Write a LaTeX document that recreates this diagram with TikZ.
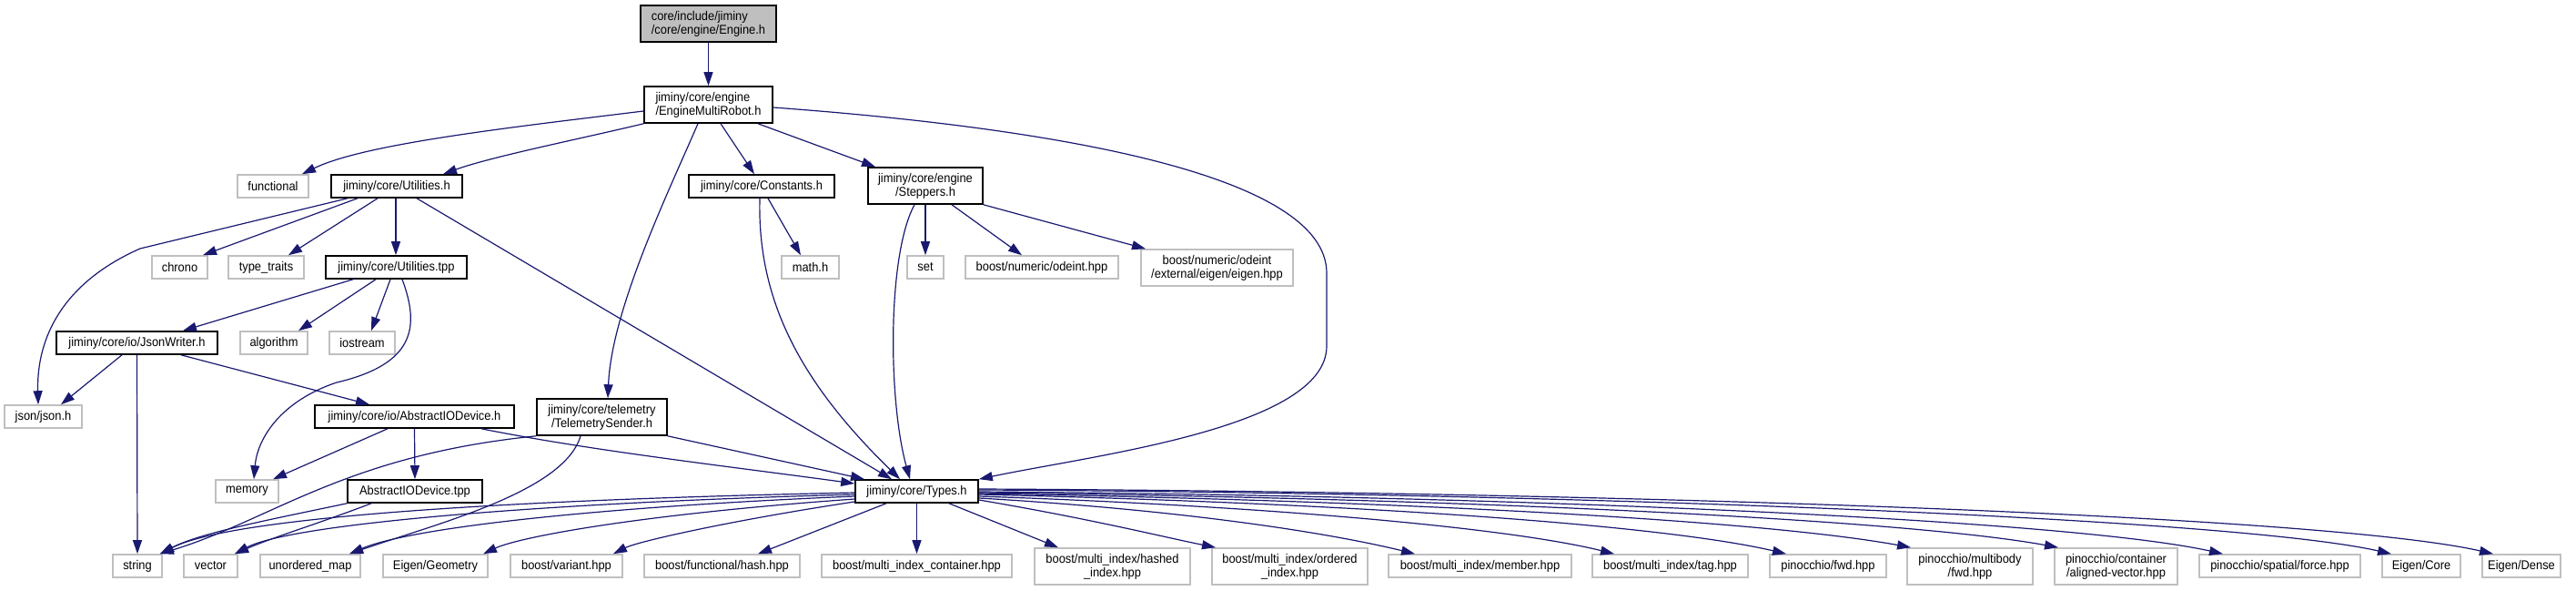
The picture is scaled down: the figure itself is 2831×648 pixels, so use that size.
\documentclass[tikz,border=0pt]{standalone}
\usepackage{fontspec}
\setmainfont{Liberation Sans}[FakeStretch=0.92]
\usetikzlibrary{arrows.meta}
\definecolor{edgeblue}{HTML}{191970}
\definecolor{extgray}{HTML}{BFBFBF}

\begin{document}
\begin{tikzpicture}[x=0.5pt,y=-0.5pt,
  every node/.style={font=\fontsize{7}{7.5}\selectfont,inner sep=0pt,
    minimum height=12.5pt,align=center},
  incl/.style={draw=black,line width=0.8pt,fill=white},
  extl/.style={draw=extgray,line width=0.8pt,fill=white},
  rootnode/.style={draw=black,line width=0.8pt,fill=extgray},
  tall/.style={minimum height=20pt},
  dep/.style={draw=edgeblue,line width=0.6pt,-{Triangle[length=7.5pt,width=5pt]}}]
  \useasboundingbox (0,0) rectangle (2831,648);
  % files of the project
  \node[rootnode,align=left,tall,minimum width=74.5pt] (root) at (778.5,26) {core/include/jiminy\\/core/engine/Engine.h};
  \node[incl,align=left,tall,minimum width=70.5pt] (emr) at (778.5,115) {jiminy/core/engine\\/EngineMultiRobot.h};
  \node[extl,minimum width=39pt] (functional) at (300,204.5) {functional};
  \node[incl,minimum width=72pt] (utilh) at (436,204.5) {jiminy/core/Utilities.h};
  \node[incl,minimum width=80pt] (constants) at (837,204.5) {jiminy/core/Constants.h};
  \node[incl,tall,minimum width=63pt] (steppers) at (1017,204) {jiminy/core/engine\\/Steppers.h};
  \node[extl,minimum width=30.5pt] (chrono) at (197.5,293.5) {chrono};
  \node[extl,minimum width=41.5pt] (typetraits) at (292.5,293.5) {type\_traits};
  \node[incl,minimum width=77.5pt] (utiltpp) at (435.5,293.5) {jiminy/core/Utilities.tpp};
  \node[extl,minimum width=31.5pt] (mathh) at (890.5,293.5) {math.h};
  \node[extl,minimum width=20pt] (set) at (1017,293.5) {set};
  \node[extl,minimum width=84pt] (odeint) at (1145,293.5) {boost/numeric/odeint.hpp};
  \node[extl,tall,minimum width=83.5pt] (odeinteigen) at (1337.5,294) {boost/numeric/odeint\\/external/eigen/eigen.hpp};
  \node[incl,minimum width=88.5pt] (jsonwriter) at (150.5,376.5) {jiminy/core/io/JsonWriter.h};
  \node[extl,minimum width=37pt] (algorithm) at (301,376.5) {algorithm};
  \node[extl,minimum width=36pt] (iostream) at (398,376.5) {iostream};
  \node[extl,minimum width=42.5pt] (json) at (47.5,457.5) {json/json.h};
  \node[incl,minimum width=109.5pt] (aiodh) at (455.5,457.5) {jiminy/core/io/AbstractIODevice.h};
  \node[incl,tall,minimum width=71.5pt] (telemetry) at (661.5,458) {jiminy/core/telemetry\\/TelemetrySender.h};
  \node[extl,minimum width=34.5pt] (memory) at (271.5,539.5) {memory};
  \node[incl,minimum width=74pt] (aiodtpp) at (456,539.5) {AbstractIODevice.tpp};
  \node[incl,minimum width=67.5pt] (types) at (1007.5,539.5) {jiminy/core/Types.h};
  % external headers, bottom row
  \node[extl,minimum width=27pt] (string) at (151,621.5) {string};
  \node[extl,minimum width=29.5pt] (vector) at (231.5,621.5) {vector};
  \node[extl,minimum width=55pt] (umap) at (341,621.5) {unordered\_map};
  \node[extl,minimum width=57.5pt] (geometry) at (478.5,621.5) {Eigen/Geometry};
  \node[extl,minimum width=61.5pt] (variant) at (622.5,621.5) {boost/variant.hpp};
  \node[extl,minimum width=85.5pt] (hash) at (793.5,621.5) {boost/functional/hash.hpp};
  \node[extl,minimum width=104.5pt] (container) at (1007.5,621.5) {boost/multi\_index\_container.hpp};
  \node[extl,tall,minimum width=85.5pt] (hashed) at (1222.5,622) {boost/multi\_index/hashed\\\_index.hpp};
  \node[extl,tall,minimum width=85.5pt] (ordered) at (1417.5,622) {boost/multi\_index/ordered\\\_index.hpp};
  \node[extl,minimum width=100.5pt] (member) at (1626.5,621.5) {boost/multi\_index/member.hpp};
  \node[extl,minimum width=85.5pt] (tag) at (1835.5,621.5) {boost/multi\_index/tag.hpp};
  \node[extl,minimum width=64pt] (pfwd) at (2009,621.5) {pinocchio/fwd.hpp};
  \node[extl,tall,minimum width=69pt] (multibody) at (2165,622) {pinocchio/multibody\\/fwd.hpp};
  \node[extl,tall,minimum width=67.5pt] (aligned) at (2325.5,622) {pinocchio/container\\/aligned-vector.hpp};
  \node[extl,minimum width=88.5pt] (force) at (2505.5,621.5) {pinocchio/spatial/force.hpp};
  \node[extl,minimum width=43pt] (core) at (2661,621.5) {Eigen/Core};
  \node[extl,minimum width=43pt] (dense) at (2771,621.5) {Eigen/Dense};

  % Engine.h and EngineMultiRobot.h
  \draw[dep] (root) -- (emr);
  \draw[dep] (emr.west |- 0,122) .. controls (560,140) and (400,158) .. (functional.north -| 332,0);
  \draw[dep] (emr.south west) .. controls (640,152) and (540,172) .. (utilh.north -| 487,0);
  \draw[dep] (emr.south -| 767,0) .. controls (735,210) and (672,340) .. (telemetry.north -| 668,0);
  \draw[dep] (emr.south -| 792,0) -- (constants.north -| 829,0);
  \draw[dep] (emr.south -| 833,0) -- (steppers.north -| 962,0);
  \draw[dep] (emr.east |- 0,118) .. controls (1150,140) and (1458,190) .. (1458,300)
    -- (1458,380) .. controls (1458,470) and (1200,500) .. (types.north east);
  % Utilities.h
  \draw[dep] (utilh.south -| 393,0) -- (chrono.north -| 223,0);
  \draw[dep] (utilh.south -| 415,0) -- (typetraits.north -| 317,0);
  \draw[dep] (utilh.south -| 435,0) -- (utiltpp.north -| 435,0);
  \draw[dep] (utilh.south -| 382,0) -- (154,273) .. controls (70,310) and (40,370) .. (json.north -| 42,0);
  \draw[dep] (utilh.south -| 458,0) -- (types.north -| 980,0);
  % Utilities.tpp
  \draw[dep] (utiltpp.south -| 388,0) -- (jsonwriter.north -| 201,0);
  \draw[dep] (utiltpp.south -| 413,0) -- (algorithm.north -| 328,0);
  \draw[dep] (utiltpp.south -| 429,0) -- (iostream.north -| 408,0);
  \draw[dep] (utiltpp.south -| 442,0) .. controls (462,360) and (455,400) .. (370,420)
    .. controls (310,440) and (283,480) .. (memory.north -| 279,0);
  % JsonWriter.h
  \draw[dep] (jsonwriter.south -| 134,0) -- (json.north -| 67,0);
  \draw[dep] (jsonwriter.south) -- (string.north);
  \draw[dep] (jsonwriter.south -| 199,0) -- (aiodh.north -| 406,0);
  % Constants.h and Steppers.h
  \draw[dep] (constants.south -| 844,0) -- (mathh.north -| 880,0);
  \draw[dep] (constants.south -| 835,0) .. controls (832,330) and (880,420) .. (types.north -| 989,0);
  \draw[dep] (steppers.south) -- (set.north);
  \draw[dep] (steppers.south -| 1046,0) -- (odeint.north -| 1123,0);
  \draw[dep] (steppers.south east) -- (odeinteigen.north -| 1259,0);
  \draw[dep] (steppers.south -| 1005,0) .. controls (975,280) and (976,440) .. (types.north -| 1000,0);
  % AbstractIODevice.h, TelemetrySender.h, AbstractIODevice.tpp
  \draw[dep] (aiodh.south -| 426,0) -- (memory.north -| 300,0);
  \draw[dep] (aiodh.south) -- (aiodtpp.north);
  \draw[dep] (aiodh.south -| 529,0) .. controls (650,495) and (800,512) .. (types.west |- 0,531);
  \draw[dep] (telemetry.south west) .. controls (380,500) and (300,570) .. (string.north -| 176,0);
  \draw[dep] (telemetry.south -| 638,0) .. controls (620,540) and (480,575) .. (umap.north -| 384,0);
  \draw[dep] (telemetry.south east) -- (types.north -| 950,0);
  \draw[dep] (aiodtpp.south west) .. controls (300,570) and (220,585) .. (string.north -| 176,0);
  \draw[dep] (aiodtpp.south -| 408,0) .. controls (350,575) and (300,590) .. (vector.north -| 258,0);
  % Types.h
  \draw[dep] (types.west |- 0,541) .. controls (600,548) and (260,565) .. (string.north -| 176,0);
  \draw[dep] (types.west |- 0,543) .. controls (600,552) and (320,575) .. (vector.north -| 258,0);
  \draw[dep] (types.west |- 0,545) .. controls (650,557) and (450,580) .. (umap.north -| 384,0);
  \draw[dep] (types.west |- 0,548) .. controls (700,565) and (570,590) .. (geometry.north -| 531,0);
  \draw[dep] (types.west |- 0,551) .. controls (800,572) and (700,595) .. (variant.north -| 674,0);
  \draw[dep] (types.south -| 974,0) -- (hash.north -| 833,0);
  \draw[dep] (types.south) -- (container.north);
  \draw[dep] (types.south -| 1043,0) -- (hashed.north -| 1163,0);
  \foreach \dst/\sy/\ax/\ay/\bx/\by/\ex in {ordered/549/1200/570/1280/590/1336,
      member/547/1300/560/1460/585/1555, tag/545/1400/556/1660/580/1774,
      pfwd/543/1500/553/1830/577/1963, multibody/542/1550/550/1940/572/2100,
      aligned/541/1600/547/2090/570/2262, force/540/1650/544/2270/570/2443,
      core/538/1700/541/2450/568/2628, dense/537/1750/540/2550/565/2740}
    \draw[dep] (types.east |- 0,\sy) .. controls (\ax,\ay) and (\bx,\by) .. (\dst.north -| \ex,0);
\end{tikzpicture}
\end{document}
